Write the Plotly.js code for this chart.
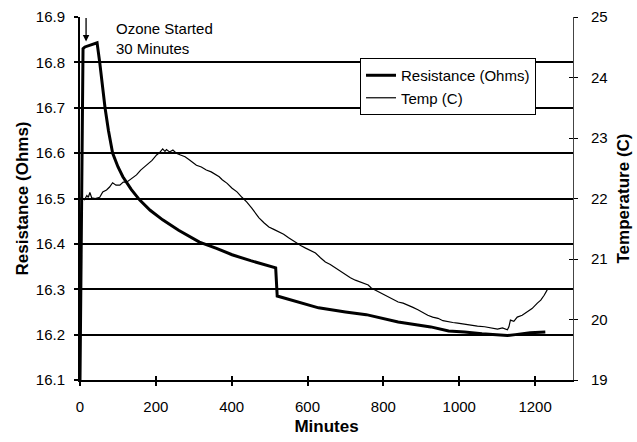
<!DOCTYPE html>
<html>
<head>
<meta charset="utf-8">
<script src="https://cdn.plot.ly/plotly-3.0.1.min.js"></script>
<style>html,body{margin:0;padding:0;background:#fff;}#chart{width:637px;height:442px;}</style>
</head>
<body>
<div id="chart"></div>
<script>
// Resistance (Ohms) vs minutes
const resMinutes = [0, 8, 13, 30, 45, 52, 58, 66, 75, 86, 100, 113, 135, 157, 185, 218, 260, 315, 360, 401, 450, 506, 516, 520, 560, 629, 700, 755, 839, 886, 925, 972, 1014, 1060, 1103, 1127, 1148, 1187, 1227];
const resValues  = [16.10, 16.83, 16.834, 16.838, 16.843, 16.80, 16.75, 16.70, 16.65, 16.60, 16.57, 16.548, 16.52, 16.497, 16.474, 16.453, 16.43, 16.404, 16.39, 16.376, 16.363, 16.349, 16.347, 16.285, 16.275, 16.259, 16.25, 16.244, 16.228, 16.222, 16.217, 16.208, 16.206, 16.202, 16.199, 16.198, 16.200, 16.204, 16.206];

// Temperature (C) vs minutes
const tempMinutes = [0, 5, 12, 18, 22, 26, 31, 40, 52, 60, 70, 78, 86, 95, 105, 114, 123, 136, 149, 160, 176, 190, 202, 210, 218, 224, 228, 236, 245, 254, 265, 277, 288, 298, 307, 320, 333, 346, 359, 367, 375, 388, 401, 414, 427, 440, 453, 465, 472, 485, 498, 511, 524, 537, 550, 560, 571, 583, 595, 608, 621, 634, 647, 660, 674, 687, 700, 713, 726, 743, 760, 768, 780, 795, 810, 825, 839, 852, 865, 878, 891, 904, 917, 930, 944, 957, 970, 983, 996, 1013, 1030, 1048, 1067, 1084, 1101, 1114, 1127, 1131, 1135, 1144, 1153, 1166, 1179, 1192, 1206, 1215, 1224, 1232];
const tempValues  = [22.00, 22.01, 21.98, 22.05, 22.02, 22.10, 22.01, 22.00, 22.02, 22.11, 22.14, 22.19, 22.26, 22.22, 22.22, 22.27, 22.27, 22.33, 22.39, 22.47, 22.55, 22.63, 22.72, 22.76, 22.82, 22.78, 22.81, 22.77, 22.80, 22.75, 22.72, 22.69, 22.64, 22.60, 22.55, 22.52, 22.47, 22.44, 22.39, 22.36, 22.31, 22.25, 22.17, 22.11, 22.02, 21.94, 21.84, 21.74, 21.68, 21.60, 21.53, 21.49, 21.45, 21.41, 21.35, 21.31, 21.26, 21.22, 21.18, 21.14, 21.10, 21.02, 20.95, 20.91, 20.85, 20.80, 20.74, 20.69, 20.65, 20.61, 20.57, 20.52, 20.48, 20.44, 20.38, 20.33, 20.29, 20.27, 20.24, 20.20, 20.16, 20.11, 20.07, 20.04, 20.02, 19.98, 19.96, 19.95, 19.94, 19.92, 19.91, 19.89, 19.88, 19.86, 19.84, 19.86, 19.83, 19.88, 19.99, 19.97, 20.04, 20.07, 20.12, 20.18, 20.27, 20.32, 20.40, 20.49];

const seriesNames = ["Resistance (Ohms)", "Temp (C)"];
const xTicks = [0, 200, 400, 600, 800, 1000, 1200];
const leftTicks = [16.1, 16.2, 16.3, 16.4, 16.5, 16.6, 16.7, 16.8, 16.9];
const rightTicks = [19, 20, 21, 22, 23, 24, 25];
const noteText = "Ozone Started<br>30 Minutes";

const FONT = "Liberation Sans, Arial, sans-serif";

const traces = [
  {x: resMinutes, y: resValues, name: seriesNames[0], type: "scatter", mode: "lines",
   line: {color: "#000", width: 3}, xaxis: "x", yaxis: "y"},
  {x: tempMinutes, y: tempValues, name: seriesNames[1], type: "scatter", mode: "lines",
   line: {color: "#000", width: 1.2}, xaxis: "x", yaxis: "y2"},
  {x: [], y: [], xaxis: "x2", yaxis: "y", showlegend: false, hoverinfo: "skip"},
  {x: [], y: [], xaxis: "x", yaxis: "y3", showlegend: false, hoverinfo: "skip"}
];

const layout = {
  width: 637, height: 442,
  margin: {l: 80, r: 64, t: 17, b: 62},
  paper_bgcolor: "#fff", plot_bgcolor: "#fff",
  font: {family: FONT, color: "#000", size: 15},
  showlegend: true,
  legend: {x: 0.568, y: 0.887, xanchor: "left", yanchor: "top",
    bgcolor: "#fff", bordercolor: "#000", borderwidth: 1,
    font: {family: FONT, size: 15, color: "#000"}, traceorder: "normal"},
  xaxis: {range: [0, 1300], tickvals: xTicks, showgrid: false, zeroline: false,
    showline: true, linecolor: "#000", linewidth: 2, ticks: "outside", ticklen: 4, tickwidth: 2, tickcolor: "#000",
    ticklabelstandoff: 8, tickfont: {size: 15},
    title: {text: "<b>Minutes</b>", font: {size: 17}, standoff: 6}, automargin: false},
  xaxis2: {range: [0, 1300], tickvals: xTicks, overlaying: "x", anchor: "y", side: "bottom",
    showgrid: false, zeroline: false, showline: false, showticklabels: false,
    ticks: "inside", ticklen: 4, tickwidth: 2, tickcolor: "#000"},
  yaxis: {range: [16.1, 16.9], tickvals: leftTicks, ticktext: leftTicks.map(v => v.toFixed(1)),
    showgrid: true, gridcolor: "#000", gridwidth: 2, zeroline: false,
    showline: true, linecolor: "#000", linewidth: 2, ticks: "outside", ticklen: 4, tickwidth: 2, tickcolor: "#000",
    ticklabelstandoff: 6, tickfont: {size: 15},
    title: {text: "<b>Resistance (Ohms)</b>", font: {size: 17}, standoff: 3}, automargin: false},
  yaxis2: {range: [19, 25], tickvals: rightTicks, overlaying: "y", side: "right", anchor: "x",
    showgrid: false, zeroline: false, showline: true, linecolor: "#444", linewidth: 1,
    ticks: "outside", ticklen: 4, tickwidth: 1, tickcolor: "#000",
    ticklabelstandoff: 10, tickfont: {size: 15},
    title: {text: "<b>Temperature (C)</b>", font: {size: 17}, standoff: 10}, automargin: false},
  yaxis3: {range: [19, 25], tickvals: rightTicks, overlaying: "y", side: "right", anchor: "x",
    showgrid: false, zeroline: false, showline: false, showticklabels: false,
    ticks: "inside", ticklen: 4, tickwidth: 1, tickcolor: "#000"},
  annotations: [
    {xref: "paper", yref: "paper", x: 0.069, y: 0.998, xanchor: "left", yanchor: "top",
     text: noteText, showarrow: false, align: "left", font: {size: 15, family: FONT}},
    {xref: "x", yref: "y", x: 16, y: 16.846, text: "", showarrow: true,
     ax: 0, ay: -25, arrowhead: 2, arrowsize: 1, arrowwidth: 1.3, arrowcolor: "#000"}
  ]
};

Plotly.newPlot("chart", traces, layout, {staticPlot: true, displayModeBar: false});
</script>
</body>
</html>
